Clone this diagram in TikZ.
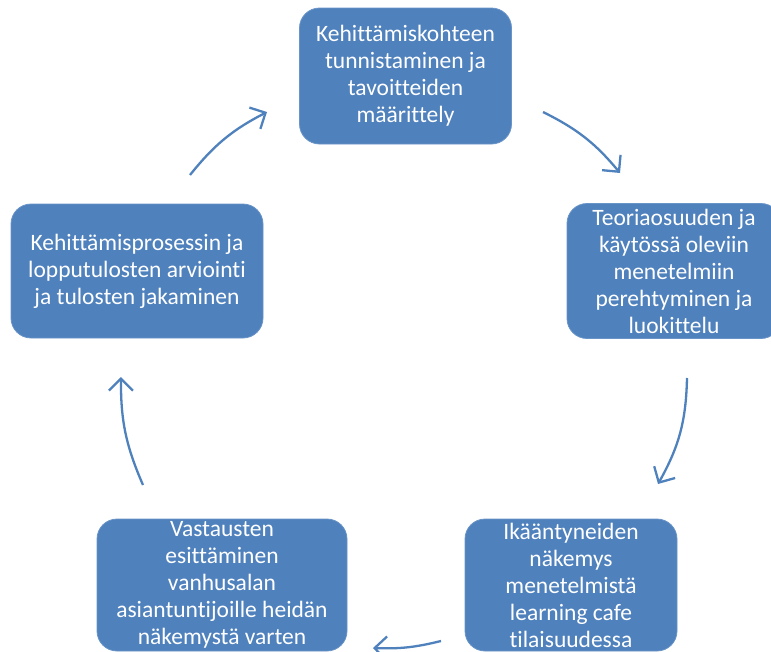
\documentclass[tikz,border=0pt]{standalone}
\usepackage{fontspec}
\setmainfont{Carlito}[Ligatures=NoCommon]
\usetikzlibrary{arrows.meta}
\definecolor{boxblue}{HTML}{4F81BD}
\begin{document}
\begin{tikzpicture}[x=1pt,y=-1pt,
  stepbox/.style={fill=boxblue, draw=boxblue!85!white, line width=0.8pt, rounded corners=20pt,
    text=white, align=center, font=\fontsize{23.5}{27}\selectfont, inner sep=0pt},
  cyc/.style={draw=boxblue, line width=2.3pt, -{Straight Barb[length=12pt,width=24pt,line width=2.3pt]}, bend left=#1}]
\useasboundingbox (0,0) rectangle (771,651);
\clip (0,0) rectangle (771,651);
\node[stepbox, minimum width=212pt, minimum height=136pt] (top) at (405.5,76)
  {Kehittämiskohteen\\tunnistaminen ja\\tavoitteiden\\määrittely};
\node[stepbox, minimum width=214pt, minimum height=135pt] (right) at (674,271)
  {Teoriaosuuden ja\\käytössä oleviin\\menetelmiin\\perehtyminen ja\\luokittelu};
\node[stepbox, minimum width=212pt, minimum height=132pt] (br) at (571,585)
  {Ikääntyneiden\\näkemys\\menetelmistä\\learning cafe\\tilaisuudessa};
\node[stepbox, minimum width=250pt, minimum height=132pt] (bl) at (222,585)
  {Vastausten\\esittäminen\\vanhusalan\\asiantuntijoille heidän\\näkemystä varten};
\node[stepbox, minimum width=252pt, minimum height=134pt] (left) at (137,271)
  {Kehittämisprosessin ja\\lopputulosten arviointi\\ja tulosten jakaminen};
\coordinate (a1s) at (190,175); \coordinate (a1e) at (267,112);
\coordinate (a2s) at (543,112); \coordinate (a2e) at (620,173);
\coordinate (a3s) at (687,378); \coordinate (a3e) at (658,484);
\coordinate (a4s) at (441,641); \coordinate (a4e) at (373,648);
\coordinate (a5s) at (143,485); \coordinate (a5e) at (121,377);
\draw[cyc=12] (a1s) to (a1e);
\draw[cyc=12] (a2s) to (a2e);
\draw[cyc=14] (a3s) to (a3e);
\draw[cyc=8] (a4s) to (a4e);
\draw[cyc=12] (a5s) to (a5e);
\end{tikzpicture}
\end{document}
